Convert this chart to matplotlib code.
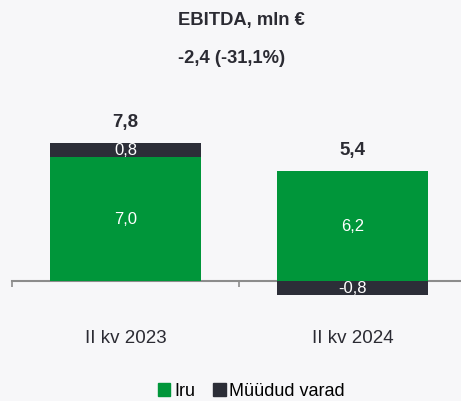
"""EBITDA bridge: quarterly comparison, stacked by component."""

import matplotlib.pyplot as plt
from matplotlib.patches import Patch

categories = ["II kv 2023", "II kv 2024"]
iru = [7.0, 6.2]
sold_assets = [0.8, -0.8]
totals = [7.8, 5.4]
series_names = ["Iru", "Müüdud varad"]
title = "EBITDA, mln €"
subtitle = "-2,4 (-31,1%)"

GREEN = "#00963a"
DARK = "#2c2e38"
BG = "#f7f7f9"
TEXT = "#2b2b33"

plt.rcParams.update({"font.family": ["Liberation Sans", "DejaVu Sans"], "font.size": 13})

fig = plt.figure(figsize=(4.61, 4.01), dpi=100, facecolor=BG)
ax = fig.add_axes([0.026, 0.233, 0.985, 0.441])
ax.set_facecolor(BG)

x = list(range(len(categories)))
width = 0.665
ax.bar(x, iru, width=width, color=GREEN, zorder=2)
bottoms = [v if s > 0 else 0 for v, s in zip(iru, sold_assets)]
ax.bar(x, sold_assets, width=width, bottom=bottoms, color=DARK, zorder=2)

for i in x:
    ax.text(i, iru[i] / 2, f"{iru[i]:.1f}".replace(".", ","), color="white",
            ha="center", va="center", fontsize=12)
    mid = bottoms[i] + sold_assets[i] / 2
    ax.text(i, mid, f"{sold_assets[i]:.1f}".replace(".", ","), color="white",
            ha="center", va="center", fontsize=12)
    top = max(iru[i], iru[i] + sold_assets[i])
    ax.annotate(f"{totals[i]:.1f}".replace(".", ","), xy=(i, top), xytext=(0, 9),
                textcoords="offset points", ha="center", va="bottom",
                fontsize=13.5, fontweight="bold", color=TEXT)
    ax.text(i, -3.25, categories[i], ha="center", va="center", fontsize=13.5, color=TEXT)

ax.set_xlim(-0.5, 1.5)
ax.set_ylim(-1.5, 8.5)
for side in ("top", "right", "left"):
    ax.spines[side].set_visible(False)
ax.spines["bottom"].set_position(("data", 0))
ax.spines["bottom"].set_color("#8c8c8c")
ax.spines["bottom"].set_linewidth(1.5)
ax.spines["bottom"].set_zorder(1)
ax.set_yticks([])
ax.set_xticks([-0.5, 0.5, 1.5])
ax.set_xticklabels([])
ax.tick_params(axis="x", direction="out", length=4, width=1.2, color="#8c8c8c")

fig.text(0.386, 0.95, title, ha="left", va="center", fontsize=13.2,
         fontweight="bold", color=TEXT)
fig.text(0.386, 0.855, subtitle, ha="left", va="center", fontsize=13.2,
         fontweight="bold", color=TEXT)

handles = [Patch(color=GREEN), Patch(color=DARK)]
fig.legend(handles, series_names, loc="center", bbox_to_anchor=(0.545, 0.024), ncol=2,
           frameon=False, handlelength=0.7, handleheight=0.7, handletextpad=0.2,
           columnspacing=1.0, fontsize=13)

fig.savefig("out.png", dpi=100, facecolor=BG)
